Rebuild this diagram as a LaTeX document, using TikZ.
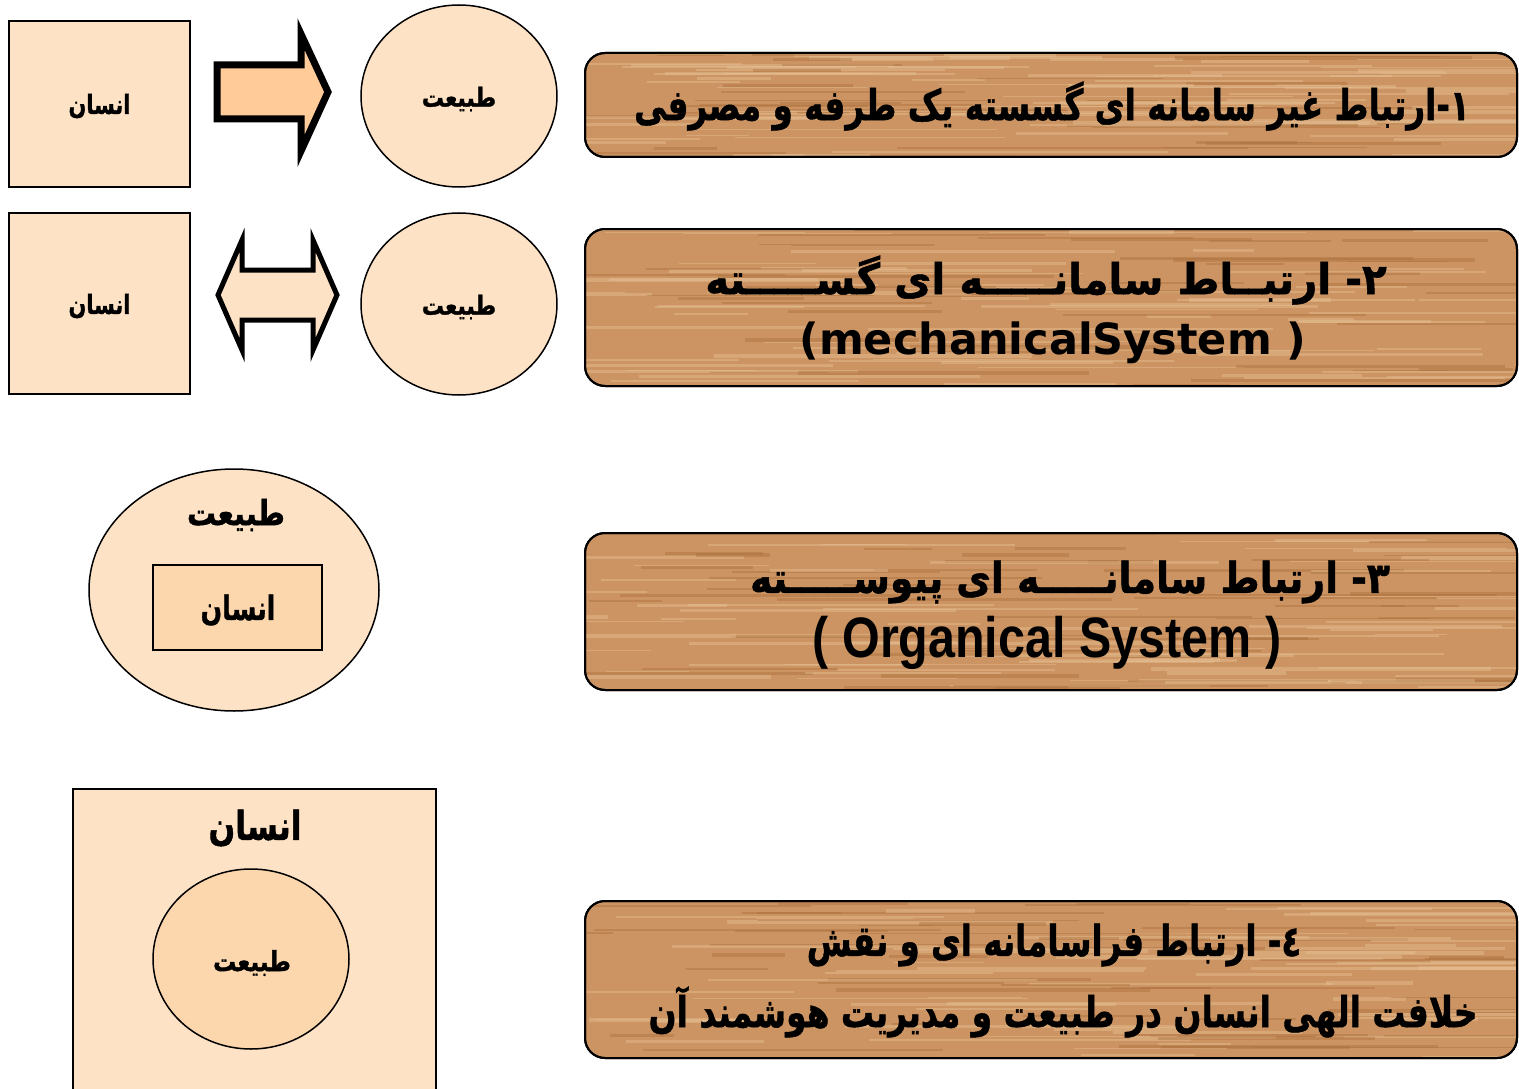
\documentclass[tikz,border=0pt]{standalone}
\usepackage{fontspec}
\usetikzlibrary{shapes.geometric}
\TeXXeTstate=1
\newfontfamily\arfont[Script=Arabic, BoldFeatures={FakeBold=1.2}]{DejaVu Sans}
\newfontfamily\dvs{DejaVu Sans}
\newfontfamily\lib{Liberation Sans}
\definecolor{peach}{RGB}{253,226,197}
\definecolor{peachD}{RGB}{252,214,172}
\definecolor{arrowfill}{RGB}{255,204,153}
\definecolor{wood}{RGB}{204,148,98}
\definecolor{woodL}{RGB}{232,196,152}
\definecolor{woodD}{RGB}{168,110,60}
\newcommand\arB[1]{\fontsize{#1}{#1}\selectfont\arfont\bfseries}
\tikzset{
  hbox/.style={draw, line width=1.5pt, fill=peach, inner sep=0pt},
  nell/.style={ellipse, draw, line width=1.5pt, fill=peach, inner sep=0pt},
  woodnode/.style={draw, line width=2pt, fill=wood, rounded corners=20pt, inner sep=0pt},
  txt/.style={inner sep=0pt, text=black}
}
\newcommand\woodbox[5]{%
  \node[woodnode, minimum width={#4-#2}, minimum height={#5-#3}] (#1) at ({(#2+#4)/2},{(#3+#5)/2}) {};
  \begin{scope}
    \clip[rounded corners=20pt] (#2,#3) rectangle (#4,#5);
    \foreach \k in {1,...,110}{
      \pgfmathsetmacro\yy{#3+rnd*(#5-#3)}
      \pgfmathsetmacro\xx{#2-80+rnd*(#4-#2)}
      \pgfmathsetmacro\ll{60+rnd*300}
      \pgfmathsetmacro\ww{0.8+rnd*3}
      \pgfmathsetmacro\cc{rnd<0.6?1:0}
      \ifdim\cc pt>0.5pt \def\col{woodL}\else\def\col{woodD}\fi
      \draw[\col, line width=\ww pt, opacity=0.4] (\xx,\yy) -- ++(\ll,0);
    }
  \end{scope}
  \draw[line width=2pt, rounded corners=20pt] (#2,#3) rectangle (#4,#5);
}
\begin{document}
\begin{tikzpicture}[x=1pt,y=-1pt]
\useasboundingbox[fill=white] (0,0) rectangle (1519,1089);
\pgfmathsetseed{11}

% row 1
\node[hbox, minimum width=181, minimum height=166] (h1) at (99.5,104) {};
\node[txt] (h1t) at (99.5,106) {\scalebox{0.95}[1.2]{\arB{22}\beginR انسان\endR}};
\draw[line width=7pt, fill=arrowfill, miter limit=10]
  (217,65) -- (301,65) -- (301,34) -- (328,92) -- (301,151) -- (301,119) -- (217,119) -- cycle;
\node[nell, minimum width=196, minimum height=182] (n1) at (459,96) {};
\node[txt] (n1t) at (459,99) {\scalebox{1}[1.2]{\arB{22}\beginR طبیعت\endR}};

% row 2
\node[hbox, minimum width=181, minimum height=181] (h2) at (99.5,303.5) {};
\node[txt] (h2t) at (99.5,306) {\scalebox{0.95}[1.2]{\arB{22}\beginR انسان\endR}};
\draw[line width=5pt, fill=peach, miter limit=10]
  (218,295) -- (242,240) -- (242,270) -- (313,270) -- (313,240) -- (337,295)
  -- (313,350) -- (313,320) -- (242,320) -- (242,350) -- cycle;
\node[nell, minimum width=196, minimum height=182] (n2) at (459,304) {};
\node[txt] (n2t) at (459,307) {\scalebox{1}[1.2]{\arB{22}\beginR طبیعت\endR}};

% row 3
\node[nell, minimum width=290, minimum height=242] (n3) at (234,590) {};
\node[txt] (n3t) at (236,515) {\scalebox{1}[1.2]{\arB{29}\beginR طبیعت\endR}};
\node[hbox, fill=peachD, minimum width=169, minimum height=85] (h3) at (237.5,607.5) {};
\node[txt] (h3t) at (238,610) {\scalebox{0.9}[1.2]{\arB{28}\beginR انسان\endR}};

% row 4
\draw[line width=1.5pt, fill=peach] (73,789) rectangle (436,1100);
\node[txt] (h4t) at (255,828) {\scalebox{0.95}[1.2]{\arB{33}\beginR انسان\endR}};
\node[nell, fill=peachD, minimum width=196, minimum height=180] (n4) at (251,959) {};
\node[txt] (n4t) at (252,963) {\scalebox{1}[1.2]{\arB{23}\beginR طبیعت\endR}};

% wood boxes
\woodbox{w1}{585}{53}{1517}{157}
\node[txt] (w1t) at (1052,106) {\scalebox{0.96}[1.25]{\arB{34}\beginR ۱-ارتباط غیر سامانه ای گسسته یک طرفه و مصرفی\endR}};

\woodbox{w2}{585}{229}{1517}{386}
\node[txt] (w2a) at (1046,280) {\scalebox{1.19}[1.25]{\arB{34}\beginR ۲- ارتبــاط سامانـــــه ای  گســـــته\endR}};
\node[txt] (w2b) at (1053,343) {{\fontsize{43}{43}\selectfont\dvs\bfseries (mechanicalSystem )}};

\woodbox{w3}{585}{533}{1517}{690}
\node[txt] (w3a) at (1070,582) {\scalebox{1.11}[1.25]{\arB{34}\beginR ۳- ارتباط سامانـــــه ای پیوســـــته\endR}};
\node[txt] (w3b) at (1047,643) {\scalebox{0.85}[1]{\fontsize{57}{57}\selectfont\lib\bfseries ( Organical System )}};

\woodbox{w4}{585}{901}{1517}{1058}
\node[txt] (w4a) at (1054,945) {\scalebox{0.955}[1.25]{\arB{34}\beginR ٤- ارتباط فراسامانه ای و نقش\endR}};
\node[txt] (w4b) at (1063,1012) {\scalebox{0.967}[1.25]{\arB{34}\beginR خلافت الهی انسان در طبیعت و مدیریت هوشمند آن\endR}};
\end{tikzpicture}
\end{document}
